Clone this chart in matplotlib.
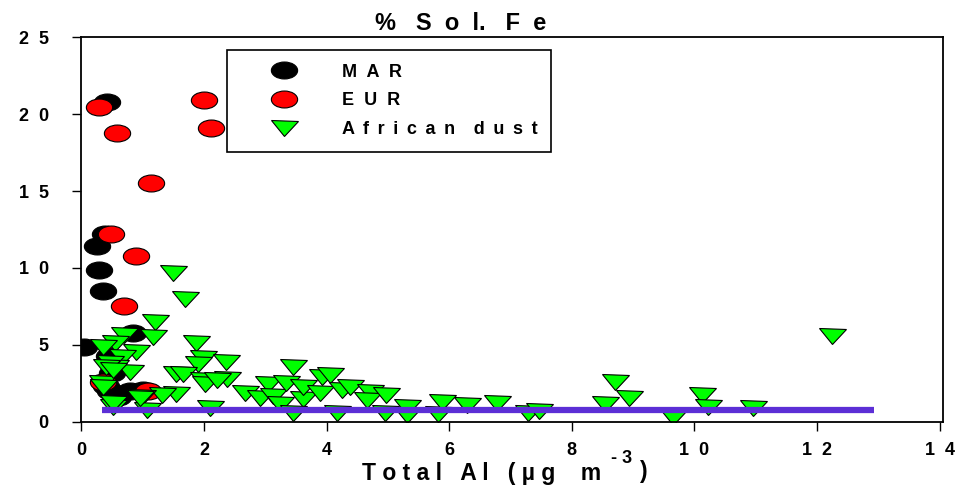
import matplotlib
matplotlib.use('Agg')
import matplotlib.pyplot as plt
from matplotlib.markers import MarkerStyle
from matplotlib.transforms import Affine2D

# MAR samples (black)
mar_al = [0.05, 0.42, 0.39, 0.25, 0.29, 0.36, 0.85, 0.45, 0.50, 0.47, 0.80, 1.00, 0.60, 0.40]
mar_fe = [4.85, 20.8, 12.2, 11.4, 9.85, 8.5, 5.8, 4.3, 3.2, 2.0, 2.0, 2.05, 1.6, 2.3]

# EUR samples (red)
eur_al = [0.29, 2.00, 2.11, 0.59, 1.13, 0.49, 0.89, 0.70, 0.36, 1.08]
eur_fe = [20.5, 20.9, 19.1, 18.75, 15.5, 12.2, 10.75, 7.5, 2.6, 2.0]

# African dust samples (green)
dust_al = [1.50, 1.69, 1.20, 1.17, 1.87, 1.99, 1.91, 2.36, 1.54, 1.66,
           1.99, 2.02, 2.38, 2.21, 1.54, 1.31, 2.10, 2.67, 2.92, 3.05,
           3.13, 3.24, 3.46, 3.34, 3.62, 3.62, 3.89, 3.46, 3.92, 4.06,
           4.26, 4.38, 4.17, 4.71, 4.66, 4.97, 4.95, 5.31, 5.31, 5.82,
           5.88, 6.29, 6.78, 7.29, 7.47, 8.54, 8.71, 8.94, 9.65, 10.12,
           10.23, 10.96, 12.24, 0.69, 0.55, 0.36, 0.90, 0.66, 0.55, 0.79,
           0.33, 0.99, 0.52, 1.07, 0.47, 0.41, 0.52, 0.36, 0.96, 0.52]
dust_fe = [9.69, 7.98, 6.5, 5.53, 5.14, 4.12, 3.75, 3.86, 3.08, 3.1,
           2.71, 2.45, 2.76, 2.71, 1.8, 1.74, 0.87, 1.89, 1.52, 2.45,
           1.67, 1.15, 3.58, 2.54, 1.46, 2.28, 1.85, 0.55, 2.93, 3.04,
           2.06, 2.28, 0.55, 1.95, 1.41, 1.74, 0.55, 0.98, 0.44, 0.5,
           1.3, 1.09, 1.2, 0.55, 0.72, 1.15, 2.6, 1.56, 0.29, 1.74,
           0.98, 0.87, 5.57, 5.64, 5.1, 4.88, 4.55, 4.23, 3.58, 3.25,
           2.5, 1.63, 0.98, 0.76, 3.8, 3.58, 3.36, 2.28, 1.52, 1.2]

# horizontal reference line
line_al = [0.33, 12.93]
line_fe = [0.76, 0.76]

x_ticks = [0, 2, 4, 6, 8, 10, 12, 14]
y_ticks = [0, 5, 10, 15, 20, 25]


def spread(s, gap=' ', word_gap=None):
    # letter-spaced text like the original graph
    if word_gap is None:
        word_gap = gap + ' ' + gap
    return word_gap.join(gap.join(w) for w in s.split(' '))


plt.rcParams['font.family'] = ['Liberation Sans', 'DejaVu Sans']
plt.rcParams['font.weight'] = 'bold'

fig = plt.figure(figsize=(9.61, 4.93), dpi=100)
ax = fig.add_axes([0.0846, 0.1446, 0.8969, 0.7797])

oval = MarkerStyle('o', transform=Affine2D().scale(1.55, 1.0))
tri = MarkerStyle('v', transform=Affine2D().scale(1.8, 1.0))

ax.plot(mar_al, mar_fe, linestyle='none', marker=oval, ms=12.2,
        mfc='black', mec='black', mew=0.8, label=spread('MAR', '  '))
ax.plot(eur_al, eur_fe, linestyle='none', marker=oval, ms=12.2,
        mfc='#ff0000', mec='black', mew=0.8, label=spread('EUR', '  '))
ax.plot(dust_al, dust_fe, linestyle='none', marker=tri, ms=10.8,
        mfc='#00ff00', mec='black', mew=0.8,
        label=spread('African dust', ' \u2009', '  \u2009 '))
ax.plot(line_al, line_fe, color='#5c2fd6', lw=4.5, solid_capstyle='butt')

ax.set_xlim(0, 14.06)
ax.set_ylim(0, 25)
ax.set_xticks(x_ticks)
ax.set_xticklabels([spread(str(t), '  ') for t in x_ticks])
ax.set_yticks(y_ticks)
ax.set_yticklabels([spread(str(t), '  ') for t in y_ticks])
ax.tick_params(axis='both', direction='out', length=6.5, width=1, labelsize=13)
ax.tick_params(axis='y', pad=17)
ax.tick_params(axis='x', pad=8)
for sp in ax.spines.values():
    sp.set_linewidth(1.3)

leg = ax.legend(loc='upper left', bbox_to_anchor=(0.1694, 0.967), borderaxespad=0,
                numpoints=1, fontsize=13, frameon=True, fancybox=False,
                edgecolor='black', framealpha=1, borderpad=0.75, labelspacing=0.66,
                handlelength=4.82, handletextpad=0.8)
leg.get_frame().set_linewidth(1.2)

fig.text(461 / 961, 1 - 23 / 493, '%   S  o  l.   F  e', ha='center', va='center',
         fontsize=17, fontweight='bold')

# x label with the superscript as separate pieces
xl = fig.text(362 / 961, 1 - 480 / 493, 'T o t a l   A l   ( µ g    m',
              ha='left', va='baseline', fontsize=16.5, fontweight='bold')
sup = ax.annotate('- 3', xy=(1, 0), xycoords=xl, xytext=(7, 16), textcoords='offset points',
                  ha='left', va='baseline', fontsize=13, fontweight='bold',
                  annotation_clip=False)
ax.annotate(')', xy=(1, 0), xycoords=sup, xytext=(6, -8), textcoords='offset points',
            ha='left', va='baseline', fontsize=16.5, fontweight='bold',
            annotation_clip=False)

fig.savefig('out.png', dpi=100)
